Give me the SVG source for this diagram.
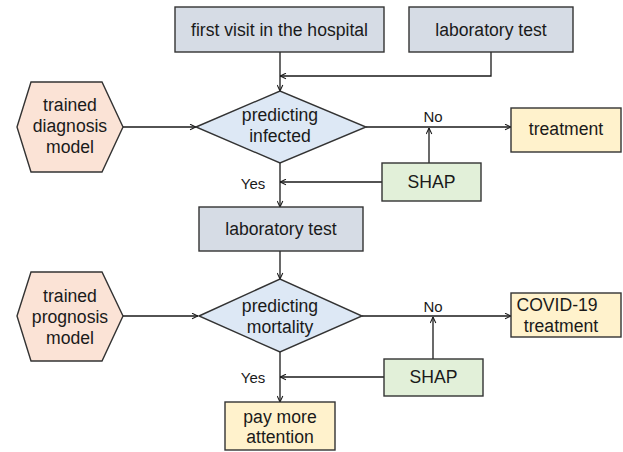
<svg xmlns="http://www.w3.org/2000/svg" width="623" height="452" viewBox="0 0 623 452">
<style>
text{font-family:"Liberation Sans",Arial,sans-serif;font-size:17.6px;fill:#1a1a1a;text-anchor:middle;dominant-baseline:central}
.lbl{font-size:15px}
.box{stroke:#333;stroke-width:1.4}
.gray{fill:#d6dce5}
.blue{fill:#dde8f5}
.peach{fill:#fbe3d6}
.yellow{fill:#fff2cc}
.green{fill:#e2f0d9}
.ln{fill:none;stroke:#1a1a1a;stroke-width:1.3;marker-end:url(#arr)}
</style>
<defs>
<marker id="arr" viewBox="0 0 10 10" refX="9.5" refY="5" markerWidth="7" markerHeight="7" markerUnits="userSpaceOnUse" orient="auto">
<path d="M1,1 L9.5,5 L1,9" fill="none" stroke="#1a1a1a" stroke-width="1.5"/>
</marker>
</defs>
<rect width="623" height="452" fill="#fff"/>
<g id="connectors">
<line class="ln" x1="280" y1="52" x2="280" y2="91"/>
<polyline class="ln" points="491,52 491,76 280,76"/>
<line class="ln" x1="123" y1="127" x2="196" y2="127"/>
<line class="ln" x1="366" y1="127" x2="511" y2="127"/>
<line class="ln" x1="429" y1="163" x2="429" y2="128"/>
<line class="ln" x1="382" y1="182" x2="280" y2="182"/>
<line class="ln" x1="280" y1="163" x2="280" y2="207"/>
<line class="ln" x1="280" y1="251" x2="280" y2="279"/>
<line class="ln" x1="123" y1="316" x2="198" y2="316"/>
<line class="ln" x1="362" y1="316" x2="511" y2="316"/>
<line class="ln" x1="433" y1="359" x2="433" y2="317"/>
<line class="ln" x1="384" y1="377" x2="280" y2="377"/>
<line class="ln" x1="280" y1="352" x2="280" y2="402"/>
<text class="lbl" x="433" y="116">No</text>
<text class="lbl" x="253" y="183">Yes</text>
<text class="lbl" x="433" y="306">No</text>
<text class="lbl" x="253" y="377">Yes</text>
</g>
<g id="first-visit"><rect class="box gray" x="175" y="7" width="209" height="45"/><text x="279.5" y="30">first visit in the hospital</text></g>
<g id="lab-test-1"><rect class="box gray" x="409" y="7" width="164" height="45"/><text x="491" y="30">laboratory test</text></g>
<g id="diagnosis-model"><polygon class="box peach" points="17,127 31,82 102,82 123,127 102,172 31,172"/><text x="70" y="105">trained</text><text x="70" y="126">diagnosis</text><text x="70" y="147">model</text></g>
<g id="predict-infected"><polygon class="box blue" points="196,127 280,91 366,127 280,163"/><text x="280" y="115">predicting</text><text x="280" y="136">infected</text></g>
<g id="treatment"><rect class="box yellow" x="511" y="108" width="110" height="44"/><text x="566" y="129">treatment</text></g>
<g id="shap-1"><rect class="box green" x="382" y="163" width="99" height="38"/><text x="431.5" y="182">SHAP</text></g>
<g id="lab-test-2"><rect class="box gray" x="199" y="207" width="164" height="44"/><text x="281" y="229">laboratory test</text></g>
<g id="prognosis-model"><polygon class="box peach" points="17,316 31,272 102,272 123,316 102,361 31,361"/><text x="70" y="296">trained</text><text x="70" y="317">prognosis</text><text x="70" y="338">model</text></g>
<g id="predict-mortality"><polygon class="box blue" points="199,316 280,279 362,316 280,352"/><text x="280" y="306">predicting</text><text x="280" y="327">mortality</text></g>
<g id="covid-treatment"><rect class="box yellow" x="511" y="293" width="110" height="44"/><text x="557" y="305">COVID-19</text><text x="561" y="326">treatment</text></g>
<g id="shap-2"><rect class="box green" x="384" y="359" width="99" height="37"/><text x="433.5" y="377">SHAP</text></g>
<g id="pay-attention"><rect class="box yellow" x="225" y="402" width="110" height="48"/><text x="280" y="417">pay more</text><text x="280" y="437">attention</text></g>
</svg>
